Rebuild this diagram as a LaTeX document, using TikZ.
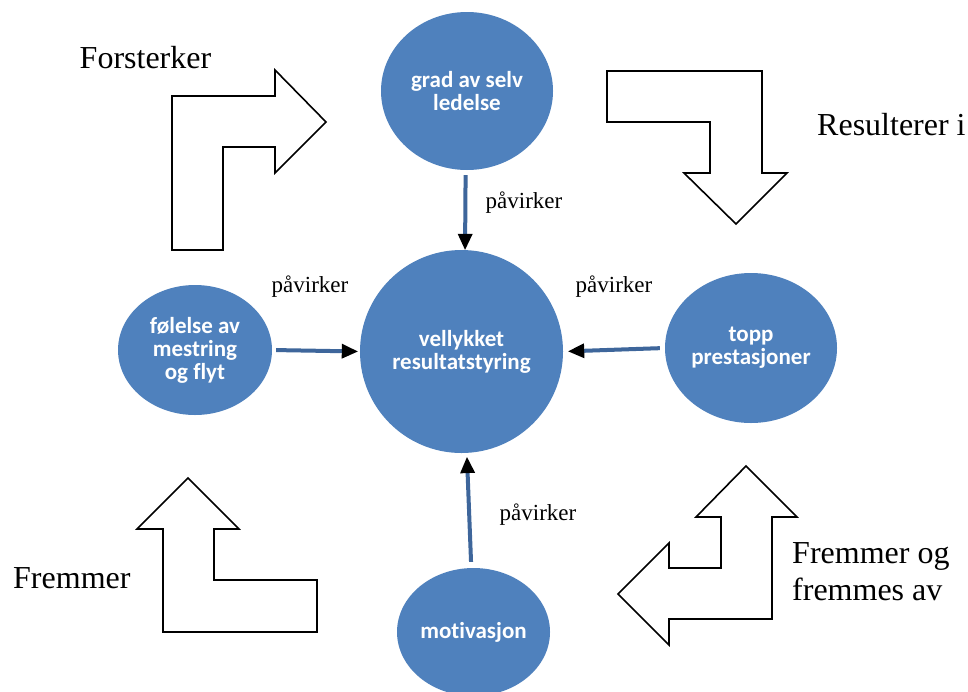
\documentclass[tikz,border=0pt]{standalone}
\usepackage{fontspec}
\setmainfont{Liberation Serif}
\newfontfamily\bubblefont[Ligatures=NoCommon]{Carlito}
\usetikzlibrary{shapes.geometric,arrows.meta}

\definecolor{bubblefill}{RGB}{79,129,189}
\definecolor{linkblue}{RGB}{62,102,155}

\begin{document}
\begin{tikzpicture}[x=1pt,y=-1pt,
  bubble/.style={ellipse, fill=bubblefill, draw=none, inner xsep=-15pt, inner ysep=-10pt,
    text=white, align=center,
    font=\bubblefont\bfseries\fontsize{23}{23}\selectfont},
  link/.style={draw=linkblue, line width=4pt,
    -{Triangle[length=16pt,width=15pt,line width=0pt,color=black]}},
  bent/.style={draw=black, line width=1.6pt, fill=white, line join=miter},
  cue/.style={font=\fontsize{23}{26}\selectfont, inner sep=0pt},
  big/.style={font=\fontsize{32}{37}\selectfont, inner sep=0pt}]

% canvas
\useasboundingbox (0,0) rectangle (968,691);
\fill[white] (0,0) rectangle (968,691);
\clip (0,0) rectangle (968,691);

% bent arrows in the four corners
\draw[bent] (172,250) -- (172,96) -- (275,96) -- (275,70) -- (326,122)
  -- (275,173) -- (275,147) -- (223,147) -- (223,250) -- cycle;
\draw[bent] (607,71) -- (762,71) -- (762,173) -- (787,173) -- (736,224)
  -- (684,173) -- (710,173) -- (710,122) -- (607,122) -- cycle;
\draw[bent] (188,478) -- (239,529) -- (214,529) -- (214,580) -- (317,580)
  -- (317,632) -- (163,632) -- (163,529) -- (137,529) -- cycle;
\draw[bent] (746,466) -- (797,517) -- (772,517) -- (772,619) -- (669,619)
  -- (669,645) -- (618,594) -- (669,543) -- (669,568) -- (721,568)
  -- (721,517) -- (696,517) -- cycle;

% captions of the bent arrows
\node[big, anchor=base] (capA) at (145.5,68) {Forsterker};
\node[big, anchor=base west] (capB) at (817,135) {Resulterer i};
\node[big, anchor=base west] (capC) at (13,588) {Fremmer};
\node[big, anchor=base west, align=left] (capD) at (792,600) {Fremmer og\\fremmes av};

% bubbles
\node[bubble, minimum width=172pt, minimum height=158pt] (lead) at (467,91) {grad av selv\\ledelse};
\node[bubble, minimum width=203pt, minimum height=203pt] (mid) at (461.5,351.5) {vellykket\\resultatstyring};
\node[bubble, minimum width=154pt, minimum height=130pt] (mastery) at (195,350) {følelse av\\mestring\\og flyt};
\node[bubble, minimum width=172pt, minimum height=150pt] (peak) at (751,348) {topp\\prestasjoner};
\node[bubble, minimum width=153pt, minimum height=128pt] (drive) at (473.5,632) {motivasjon};

% connectors into the centre
\draw[link, shorten <=5pt] (lead.-91.5) -- (mid.88);
\draw[link, shorten <=4pt, shorten >=2pt] (mastery.east) -- (mid.west);
\draw[link, shorten <=5pt, shorten >=5pt] (peak.west) -- (mid.east);
\draw[link, shorten <=6pt, shorten >=4pt] (drive.92) -- (mid.-87);

% connector labels
\node[cue] (cueA) at (524,203) {påvirker};
\node[cue] (cueB) at (310,287) {påvirker};
\node[cue] (cueC) at (614,287) {påvirker};
\node[cue] (cueD) at (538,515) {påvirker};
\end{tikzpicture}
\end{document}
